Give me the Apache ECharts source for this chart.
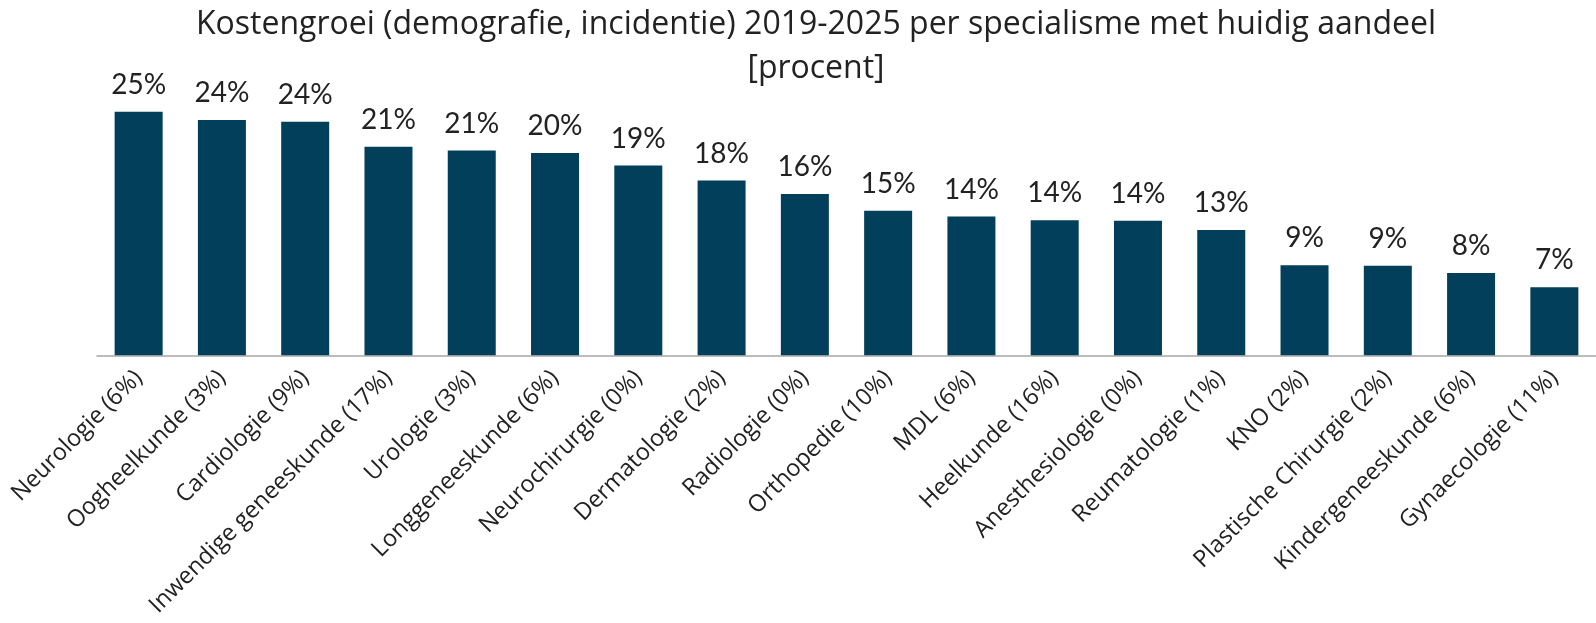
<!DOCTYPE html>
<html>
<head>
<meta charset="utf-8">
<title>Kostengroei per specialisme</title>
<script src="https://cdn.jsdelivr.net/npm/echarts@6/dist/echarts.min.js"></script>
<style>
  html, body { margin: 0; padding: 0; background: #fff; }
  #chart { width: 1596px; height: 623px; }
</style>
</head>
<body>
<div id="chart"></div>
<script>
  // specialisme (huidig aandeel)
  const categories = [
    'Neurologie (6%)', 'Oogheelkunde (3%)', 'Cardiologie (9%)', 'Inwendige geneeskunde (17%)',
    'Urologie (3%)', 'Longgeneeskunde (6%)', 'Neurochirurgie (0%)', 'Dermatologie (2%)',
    'Radiologie (0%)', 'Orthopedie (10%)', 'MDL (6%)', 'Heelkunde (16%)',
    'Anesthesiologie (0%)', 'Reumatologie (1%)', 'KNO (2%)', 'Plastische Chirurgie (2%)',
    'Kindergeneeskunde (6%)', 'Gynaecologie (11%)'
  ]
  // kostengroei 2019-2025 [procent]
  const growth = [
    24.57, 23.76, 23.56, 21.04, 20.66, 20.43, 19.15, 17.64, 16.28,
    14.6, 14.0, 13.63, 13.59, 12.65, 9.09, 9.04, 8.31, 6.86
  ]

  const chart = echarts.init(document.getElementById('chart'))
  chart.setOption({
    animation: false,
    title: {
      text: 'Kostengroei (demografie, incidentie) 2019-2025 per specialisme met huidig aandeel\n[procent]',
      left: 811,
      top: -2,
      textAlign: 'center',
      textStyle: {
        fontFamily: 'Open Sans',
        fontWeight: 'normal',
        fontSize: 32,
        lineHeight: 44,
        color: '#222'
      }
    },
    grid: {
      left: 97,
      top: 107.6,
      width: 1508,
      bottom: 267.7
    },
    xAxis: {
      type: 'category',
      data: categories,
      axisLine: { lineStyle: { color: '#a6a6a6', width: 1.5 } },
      axisTick: { show: false },
      axisLabel: {
        interval: 0,
        rotate: 45,
        margin: 19,
        fontFamily: 'Open Sans',
        fontSize: 23.5,
        color: '#222'
      }
    },
    yAxis: {
      type: 'value',
      min: 0,
      max: 25,
      show: false
    },
    series: [{
      type: 'bar',
      data: growth,
      barWidth: 48,
      itemStyle: { color: '#013f5a' },
      label: {
        show: true,
        position: 'top',
        distance: 13,
        fontFamily: 'Lato',
        fontSize: 28,
        color: '#222',
        formatter: p => Math.round(p.value) + '%'
      }
    }]
  })
</script>
</body>
</html>
